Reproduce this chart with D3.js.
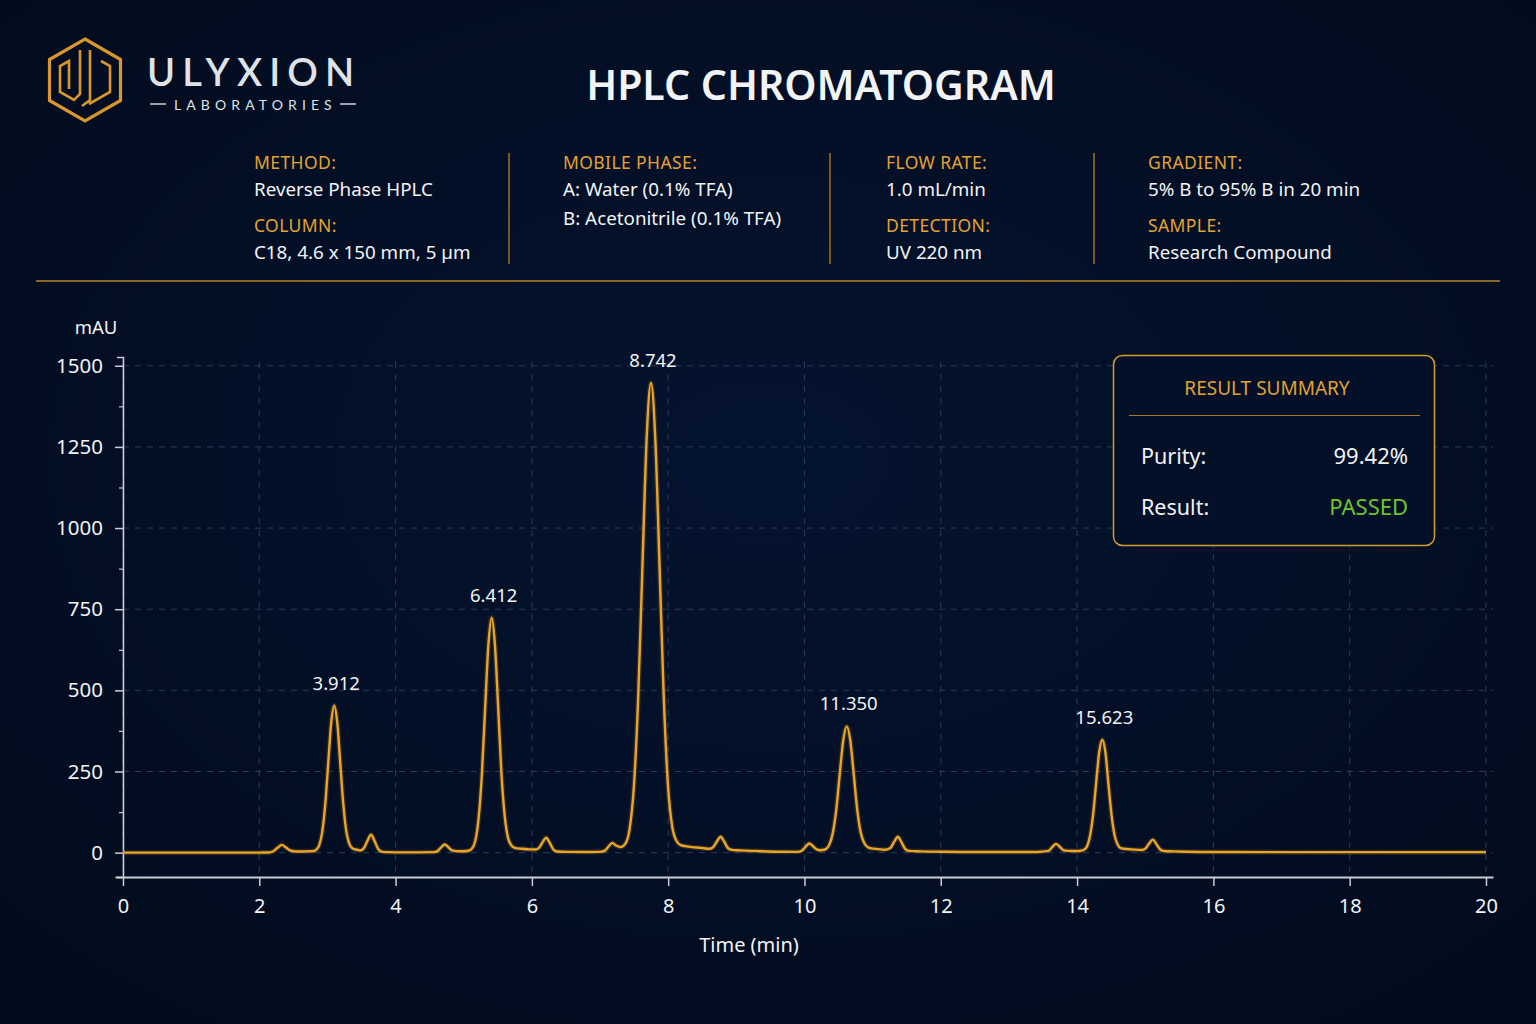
<!DOCTYPE html>
<html><head><meta charset="utf-8">
<script src="https://cdn.jsdelivr.net/npm/d3@7"></script>
<style>
html,body{margin:0;padding:0;background:#030e22;}
svg{display:block;}
text{font-family:"Noto Sans","Open Sans",sans-serif;}
</style></head>
<body>
<svg id="c" width="1536" height="1024"></svg>
<script>
// ---------- data ----------
const traceTime = [0,1,2.0,2.1,2.135,2.2,2.265,2.33,2.395,2.46,2.525,2.6,2.7,2.8,2.836,2.88,2.924,2.968,3.012,3.056,3.1,3.144,3.188,3.232,3.276,3.32,3.364,3.41,3.46,3.475,3.53,3.585,3.64,3.695,3.75,3.805,3.9,4.0,4.3,4.55,4.61,4.665,4.72,4.775,4.83,4.9,5.0,5.07,5.119,5.168,5.216,5.265,5.313,5.362,5.41,5.458,5.507,5.555,5.604,5.652,5.701,5.75,5.85,5.97,6.045,6.1,6.155,6.21,6.265,6.32,6.375,6.5,6.8,7.0,7.07,7.125,7.18,7.235,7.3,7.3725,7.435,7.4975,7.56,7.6225,7.685,7.748,7.81,7.873,7.935,7.998,8.06,8.123,8.185,8.25,8.35,8.47,8.61,8.66,8.715,8.77,8.825,8.88,8.935,9.05,9.3,9.6,9.9,9.96,10.015,10.07,10.125,10.18,10.23,10.26,10.311,10.363,10.414,10.466,10.517,10.569,10.62,10.672,10.723,10.775,10.826,10.878,10.929,10.98,11.08,11.18,11.26,11.315,11.37,11.425,11.48,11.535,11.7,12.0,12.5,13.0,13.4,13.58,13.635,13.69,13.745,13.8,13.86,13.965,14.01,14.055,14.1,14.145,14.19,14.235,14.28,14.325,14.37,14.415,14.46,14.505,14.55,14.595,14.64,14.685,14.8,14.95,15.0,15.055,15.11,15.165,15.22,15.275,15.4,15.6,16.0,18.0,20.0];
const traceMAU = [0,0,0,0.5,0.5,3.5,14.6,24,15.5,6,4,3.5,4,5,9,23,64,149,276,401,453,401,277,152,67,28,14,10,8,6.5,12.6,35.7,55,34,9.6,2.5,1.5,1,1,1.5,4.2,15.6,25,16.7,6.8,4.5,4.5,6,12,35,101,237,440,640,724,640,441,238,108,44,22,15,12,10,9.5,14,31.4,46,29,8.8,3.5,2.5,2,2.5,6.2,19,30,22,17,28,74,205,478,884,1280,1447,1280,885,480,204,79,36,23,20,17,15,12,17,34.4,49,32.9,13.5,8.5,7,5,3,2.5,6,18,28,19.7,10,7.5,8,11,24,59,132,241,346,389,346,241,131,61,29,17,13,11,9,14.4,33,49,31.7,11,5.5,4,3,2,2,2,5.4,17,27,18.3,8,5.5,5,5,6,9,19,52,117,215,310,348,310,212,117,54,25,14,12,10,8,12.3,27.4,40,26,9.7,5,4,3,2,1.5,1.5];

const peakTimes  = [3.10, 5.41, 7.748, 10.62, 14.37];
const peakHeights= [453, 724, 1447, 389, 348];
const peakLabels = ["3.912","6.412","8.742","11.350","15.623"];

const xTicks = [0,2,4,6,8,10,12,14,16,18,20];
const yTicks = [0,250,500,750,1000,1250,1500];
const yMinorTicks = [125,375,625,875,1125,1375];

const infoColumns = [
  {label1:"METHOD:", value1:["Reverse Phase HPLC"], label2:"COLUMN:", value2:["C18, 4.6 x 150 mm, 5 µm"]},
  {label1:"MOBILE PHASE:", value1:["A: Water (0.1% TFA)","B: Acetonitrile (0.1% TFA)"], label2:null, value2:[]},
  {label1:"FLOW RATE:", value1:["1.0 mL/min"], label2:"DETECTION:", value2:["UV 220 nm"]},
  {label1:"GRADIENT:", value1:["5% B to 95% B in 20 min"], label2:"SAMPLE:", value2:["Research Compound"]}
];
const summaryRows = [["Purity:","99.42%"],["Result:","PASSED"]];

// ---------- drawing ----------
const GOLD = "#e3a233", WHITE = "#f2f3f5";
const svg = d3.select("#c");
const defs = svg.append("defs");
const bg = defs.append("radialGradient").attr("id","bg").attr("cx","50%").attr("cy","45%").attr("r","75%");
bg.append("stop").attr("offset","0%").attr("stop-color","#04132f");
bg.append("stop").attr("offset","100%").attr("stop-color","#020b1c");
svg.append("rect").attr("width",1536).attr("height",1024).attr("fill","url(#bg)");

// logo
const logo = svg.append("g").attr("transform","translate(85,80)");
const hex = (r)=>d3.range(6).map(i=>{const a=Math.PI/180*(60*i-90);return [r*Math.cos(a),r*Math.sin(a)];});
logo.append("polygon").attr("points",hex(41).map(p=>p.join(",")).join(" "))
  .attr("fill","none").attr("stroke","#d9962a").attr("stroke-width",3.2);
logo.append("path").attr("d","M-5,-30 V14 L-11,20 L-25,12 V-14 L-16,-19 V9 M5,-30 V20 L-3,26 M16,-19 L25,-14 V12 L4,24")
  .attr("fill","none").attr("stroke","#d9962a").attr("stroke-width",2.6).attr("stroke-linejoin","miter");
svg.append("text").attr("x",147).attr("y",86).attr("font-size",38).attr("font-weight",600)
  .attr("letter-spacing",7.2).attr("fill","#dfe2e7").style("font-family","Lato, 'Open Sans', sans-serif").text("ULYXION");
svg.append("text").attr("x",174).attr("y",110).attr("font-size",14).attr("letter-spacing",5.1)
  .attr("fill","#dfe2e7").style("font-family","Lato, 'Open Sans', sans-serif").text("LABORATORIES");
svg.append("line").attr("x1",150).attr("x2",166).attr("y1",104).attr("y2",104).attr("stroke","#cfd3da").attr("stroke-width",1.5);
svg.append("line").attr("x1",340).attr("x2",356).attr("y1",104).attr("y2",104).attr("stroke","#cfd3da").attr("stroke-width",1.5);

// title
svg.append("text").attr("x",821).attr("y",100).attr("text-anchor","middle").attr("font-size",41)
  .attr("font-weight",600).attr("fill",WHITE).text("HPLC CHROMATOGRAM");

// info block
const colX = [254,563,886,1148];
infoColumns.forEach((c,i)=>{
  const g = svg.append("g");
  g.append("text").attr("x",colX[i]).attr("y",169).attr("font-size",17.5).attr("letter-spacing",0.4).attr("fill",GOLD).text(c.label1);
  c.value1.forEach((v,j)=>g.append("text").attr("x",colX[i]).attr("y",196+j*29).attr("font-size",18.8).attr("fill",WHITE).text(v));
  if(c.label2){
    g.append("text").attr("x",colX[i]).attr("y",232).attr("font-size",17.5).attr("letter-spacing",0.4).attr("fill",GOLD).text(c.label2);
    c.value2.forEach((v,j)=>g.append("text").attr("x",colX[i]).attr("y",259).attr("font-size",18.8).attr("fill",WHITE).text(v));
  }
});
[509,830,1094].forEach(x=>svg.append("line").attr("x1",x).attr("x2",x).attr("y1",153).attr("y2",264)
  .attr("stroke","#b98325").attr("stroke-width",1.3));
svg.append("line").attr("x1",36).attr("x2",1500).attr("y1",281).attr("y2",281).attr("stroke","#b98325").attr("stroke-width",1.3);

// scales
const x = d3.scaleLinear().domain([-0.117,20.103]).range([115,1493]);
const y = d3.scaleLinear().domain([-75,1527]).range([877,357]);

// grid
const grid = svg.append("g").attr("stroke","#2b3a55").attr("stroke-width",1).attr("stroke-dasharray","6,6");
xTicks.forEach(t=>grid.append("line").attr("x1",x(t)).attr("x2",x(t)).attr("y1",362).attr("y2",877));
yTicks.forEach(t=>grid.append("line").attr("x1",x(0)).attr("x2",1493).attr("y1",y(t)).attr("y2",y(t)));

// axes
const axisColor = "#c9ccd2";
const gx = svg.append("g").attr("transform","translate(0,877)")
  .call(d3.axisBottom(x).tickValues(xTicks).tickFormat(d3.format("d")).tickSizeInner(9).tickSizeOuter(0).tickPadding(13));
gx.select(".domain").attr("stroke",axisColor).attr("stroke-width",2.2);
gx.selectAll(".tick line").attr("stroke",axisColor).attr("stroke-width",1.5);
gx.selectAll(".tick text").attr("fill",WHITE).attr("font-size",20).style("font-family","'Noto Sans',sans-serif");

const gy = svg.append("g").attr("transform",`translate(${x(0)},0)`)
  .call(d3.axisLeft(y).tickValues(yTicks).tickFormat(d3.format("d")).tickSizeInner(8).tickSizeOuter(6).tickPadding(12));
gy.select(".domain").attr("stroke",axisColor).attr("stroke-width",1.6);
gy.selectAll(".tick line").attr("stroke",axisColor).attr("stroke-width",1.5);
gy.selectAll(".tick text").attr("fill",WHITE).attr("font-size",20.5).style("font-family","'Noto Sans',sans-serif");
const gyMinor = svg.append("g").attr("transform",`translate(${x(0)},0)`)
  .call(d3.axisLeft(y).tickValues(yMinorTicks).tickFormat("").tickSize(4).tickSizeOuter(0));
gyMinor.select(".domain").remove();
gyMinor.selectAll(".tick line").attr("stroke",axisColor).attr("stroke-width",1.2);

svg.append("text").attr("x",96).attr("y",334).attr("text-anchor","middle").attr("font-size",18.5).attr("fill",WHITE).text("mAU");
svg.append("text").attr("x",749).attr("y",952).attr("text-anchor","middle").attr("font-size",20).attr("fill",WHITE).text("Time (min)");

// trace
const pts = traceTime.map((t,i)=>[t,traceMAU[i]]);
const line = d3.line().x(d=>x(d[0])).y(d=>y(d[1])).curve(d3.curveMonotoneX);
svg.append("path").datum(pts).attr("d",line).attr("fill","none").attr("stroke","#e9a325")
  .attr("stroke-width",5).attr("opacity",0.18).attr("stroke-linejoin","round");
svg.append("path").datum(pts).attr("d",line).attr("fill","none").attr("stroke","#eaa526")
  .attr("stroke-width",2.4).attr("stroke-linejoin","round");

// peak labels
peakTimes.forEach((t,i)=>{
  svg.append("text").attr("x",x(t)+2).attr("y",y(peakHeights[i])-16).attr("text-anchor","middle")
    .attr("font-size",18.5).attr("fill",WHITE).text(peakLabels[i]);
});

// summary box
const box = svg.append("g");
box.append("rect").attr("x",1113.5).attr("y",355.5).attr("width",321).attr("height",190).attr("rx",9)
  .attr("fill","#041028").attr("stroke","#d59a2e").attr("stroke-width",1.5);
box.append("text").attr("x",1267).attr("y",395).attr("text-anchor","middle").attr("font-size",19).attr("fill",GOLD).text("RESULT SUMMARY");
box.append("line").attr("x1",1129).attr("x2",1420).attr("y1",415.5).attr("y2",415.5).attr("stroke","#a87a2a").attr("stroke-width",1.2);
summaryRows.forEach((r,i)=>{
  box.append("text").attr("x",1141).attr("y",464+i*51).attr("font-size",21.5).attr("fill",WHITE).text(r[0]);
  box.append("text").attr("x",1408).attr("y",464+i*51).attr("text-anchor","end").attr("font-size",22)
    .attr("fill",i===1?"#6dc52b":WHITE).text(r[1]);
});
</script>
</body></html>
